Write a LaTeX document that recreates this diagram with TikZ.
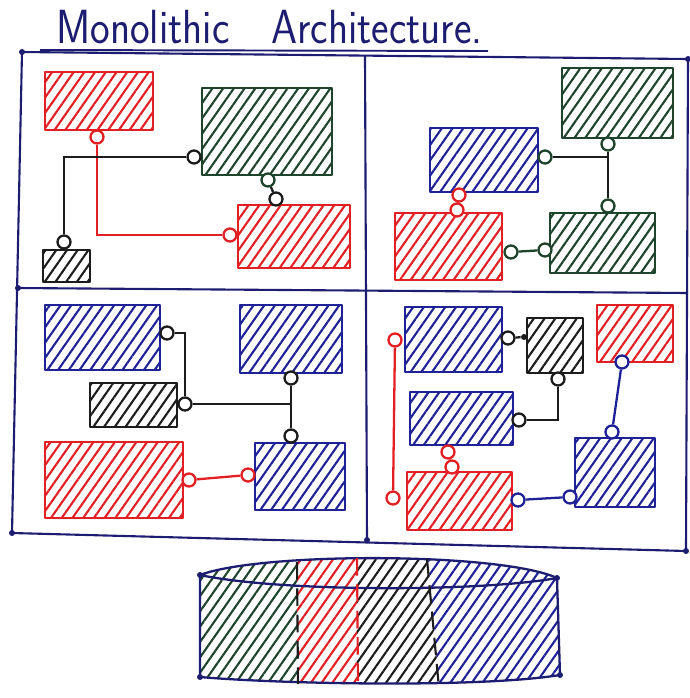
\documentclass[tikz,border=0pt]{standalone}
\usetikzlibrary{patterns.meta,fit}

\definecolor{navy}{RGB}{28,28,112}
\definecolor{redpen}{RGB}{226,32,36}
\definecolor{greenpen}{RGB}{30,68,44}
\definecolor{bluepen}{RGB}{30,34,150}
\definecolor{blackpen}{RGB}{28,28,28}

\begin{document}
\begin{tikzpicture}[x=0.02cm, y=-0.02cm,
    box/.style={draw=#1, line width=1.4pt, line join=round, inner sep=0pt,
        pattern={Lines[angle=55,distance=5pt,line width=1.2pt]}, pattern color=#1},
    port/.style={circle, draw=#1, fill=white, line width=1.3pt, minimum size=0.26cm, inner sep=0pt},
    wire/.style={draw=#1, line width=1.3pt},
    hatch/.style={pattern={Lines[angle=55,distance=5pt,line width=1.2pt]}, pattern color=#1}]

        \useasboundingbox (0,0) rectangle (690,698);

        % Title
        \node[anchor=base west, text=navy, inner sep=0pt] (title) at (56,43)
            {\scalebox{1.13}[1.3]{\fontsize{21}{21}\selectfont\sffamily Monolithic\quad Architecture.}};
        \draw[navy, line width=1.1pt] (40,50) -- (488,51);

        % Frame
        \draw[navy, line width=1.2pt, line join=round] (22,52) -- (688,59) -- (686,551) -- (12,533) -- cycle;
        \draw[navy, line width=1.2pt] (365,55) -- (367,540);
        \draw[navy, line width=1.2pt] (18,288) -- (688,293);
        \foreach \p in {(22,52),(688,59),(686,551),(12,533),(367,540),(18,288)}
            \fill[navy] \p circle (3);

        % Top left
        \node[box=redpen, fit={(45,72) (153,130)}] (rA) {};
        \node[box=greenpen, fit={(202,88) (332,175)}] (gA) {};
        \node[box=redpen, fit={(238,205) (350,268)}] (rB) {};
        \node[box=blackpen, fit={(43,250) (90,282)}] (kA) {};

        \node[port=redpen] (pRA) at (97,137) {};
        \node[port=redpen] (pRB) at (230,235) {};
        \node[port=blackpen] (pKA) at (64,242) {};
        \node[port=blackpen] (pGA) at (194,157) {};
        \node[port=greenpen] (pGA2) at (268,180) {};
        \node[port=blackpen] (pRB2) at (276,199) {};

        \draw[wire=redpen] (pRA) |- (pRB);
        \draw[wire=blackpen] (pKA) |- (pGA);
        \draw[wire=blackpen] (pGA2) -- (pRB2);

        % Top right
        \node[box=greenpen, fit={(562,68) (673,138)}] (gB) {};
        \node[box=bluepen, fit={(430,128) (538,192)}] (bA) {};
        \node[box=redpen, fit={(395,213) (502,280)}] (rC) {};
        \node[box=greenpen, fit={(550,213) (655,273)}] (gC) {};

        \node[port=greenpen] (pBA) at (545,157) {};
        \node[port=greenpen] (pGB) at (608,144) {};
        \node[port=greenpen] (pGC) at (608,206) {};
        \node[port=redpen] (pBA2) at (459,195) {};
        \node[port=redpen] (pRC) at (457,210) {};
        \node[port=greenpen] (pRC2) at (511,252) {};
        \node[port=greenpen] (pGC2) at (545,250) {};

        \draw[wire=blackpen] (pGB) -- (pGC);
        \draw[wire=blackpen] (pBA) -- (pBA -| pGB);
        \draw[wire=redpen] (pBA2) -- (pRC);
        \draw[wire=greenpen] (pRC2) -- (pGC2);

        % Bottom left
        \node[box=bluepen, fit={(45,305) (160,370)}] (bB) {};
        \node[box=bluepen, fit={(240,305) (342,373)}] (bC) {};
        \node[box=blackpen, fit={(90,383) (177,427)}] (kB) {};
        \node[box=redpen, fit={(45,442) (183,518)}] (rD) {};
        \node[box=bluepen, fit={(255,443) (345,510)}] (bD) {};

        \node[port=blackpen] (pBB) at (167,333) {};
        \node[port=blackpen] (pKB) at (185,404) {};
        \node[port=blackpen] (pBC) at (291,378) {};
        \node[port=blackpen] (pBD) at (291,436) {};
        \node[port=redpen] (pRD) at (189,480) {};
        \node[port=redpen] (pBD2) at (248,475) {};

        \draw[wire=blackpen] (pBB) -| (pKB);
        \draw[wire=blackpen] (pKB) -- (pKB -| pBC);
        \draw[wire=blackpen] (pBC) -- (pBD);
        \draw[wire=redpen] (pRD) -- (pBD2);

        % Bottom right
        \node[box=bluepen, fit={(405,307) (502,372)}] (bE) {};
        \node[box=blackpen, fit={(527,318) (583,373)}] (kC) {};
        \node[box=redpen, fit={(597,305) (673,362)}] (rE) {};
        \node[box=bluepen, fit={(410,392) (513,445)}] (bF) {};
        \node[box=redpen, fit={(407,472) (512,530)}] (rF) {};
        \node[box=bluepen, fit={(575,438) (655,507)}] (bG) {};

        \node[port=blackpen] (pBE) at (508,338) {};
        \node[circle, fill=blackpen, minimum size=0.12cm, inner sep=0pt] (pKC) at (524,337) {};
        \node[port=blackpen] (pKC2) at (558,379) {};
        \node[port=blackpen] (pBF) at (519,420) {};
        \node[port=redpen] (pBE2) at (395,340) {};
        \node[port=redpen] (pRF) at (393,498) {};
        \node[port=redpen] (pBF2) at (448,452) {};
        \node[port=redpen] (pRF2) at (452,467) {};
        \node[port=bluepen] (pRE) at (622,362) {};
        \node[port=bluepen] (pBG) at (612,432) {};
        \node[port=bluepen] (pRF3) at (518,500) {};
        \node[port=bluepen] (pBG2) at (570,497) {};

        \draw[wire=blackpen] (pBE) -- (pKC);
        \draw[wire=blackpen] (pKC2) |- (pBF);
        \draw[wire=redpen] (pBE2) -- (pRF);
        \draw[wire=redpen] (pBF2) -- (pRF2);
        \draw[wire=bluepen] (pRE) -- (pBG);
        \draw[wire=bluepen] (pRF3) -- (pBG2);

        % Single deployable unit
        \begin{scope}
            \clip (200,575) .. controls (260,552) and (500,552) .. (557,578)
                -- (560,675) .. controls (480,688) and (280,684) .. (200,677) -- cycle;
            \fill[hatch=greenpen] (190,545) rectangle (297,695);
            \fill[hatch=redpen] (297,545) rectangle (357,695);
            \fill[hatch=blackpen] (357,545) -- (427,545) -- (440,695) -- (357,695) -- cycle;
            \fill[hatch=bluepen] (427,545) -- (570,545) -- (570,695) -- (440,695) -- cycle;
        \end{scope}
        \draw[navy, line width=1.3pt, line join=round]
            (200,575) .. controls (260,552) and (500,552) .. (557,578)
            -- (560,675) .. controls (480,688) and (280,684) .. (200,677) -- cycle;
        \draw[navy, line width=1.3pt] (200,575) .. controls (280,592) and (480,592) .. (557,578);
        \draw[blackpen, line width=1.2pt, dash pattern=on 10pt off 5pt] (297,562) -- (298,684);
        \draw[redpen, line width=1.2pt, dash pattern=on 10pt off 5pt] (357,558) -- (358,685);
        \draw[blackpen, line width=1.2pt, dash pattern=on 10pt off 5pt] (427,559) -- (439,688);
        \foreach \p in {(200,575),(557,578),(200,677),(560,675)}
            \fill[navy] \p circle (3);

\end{tikzpicture}
\end{document}
